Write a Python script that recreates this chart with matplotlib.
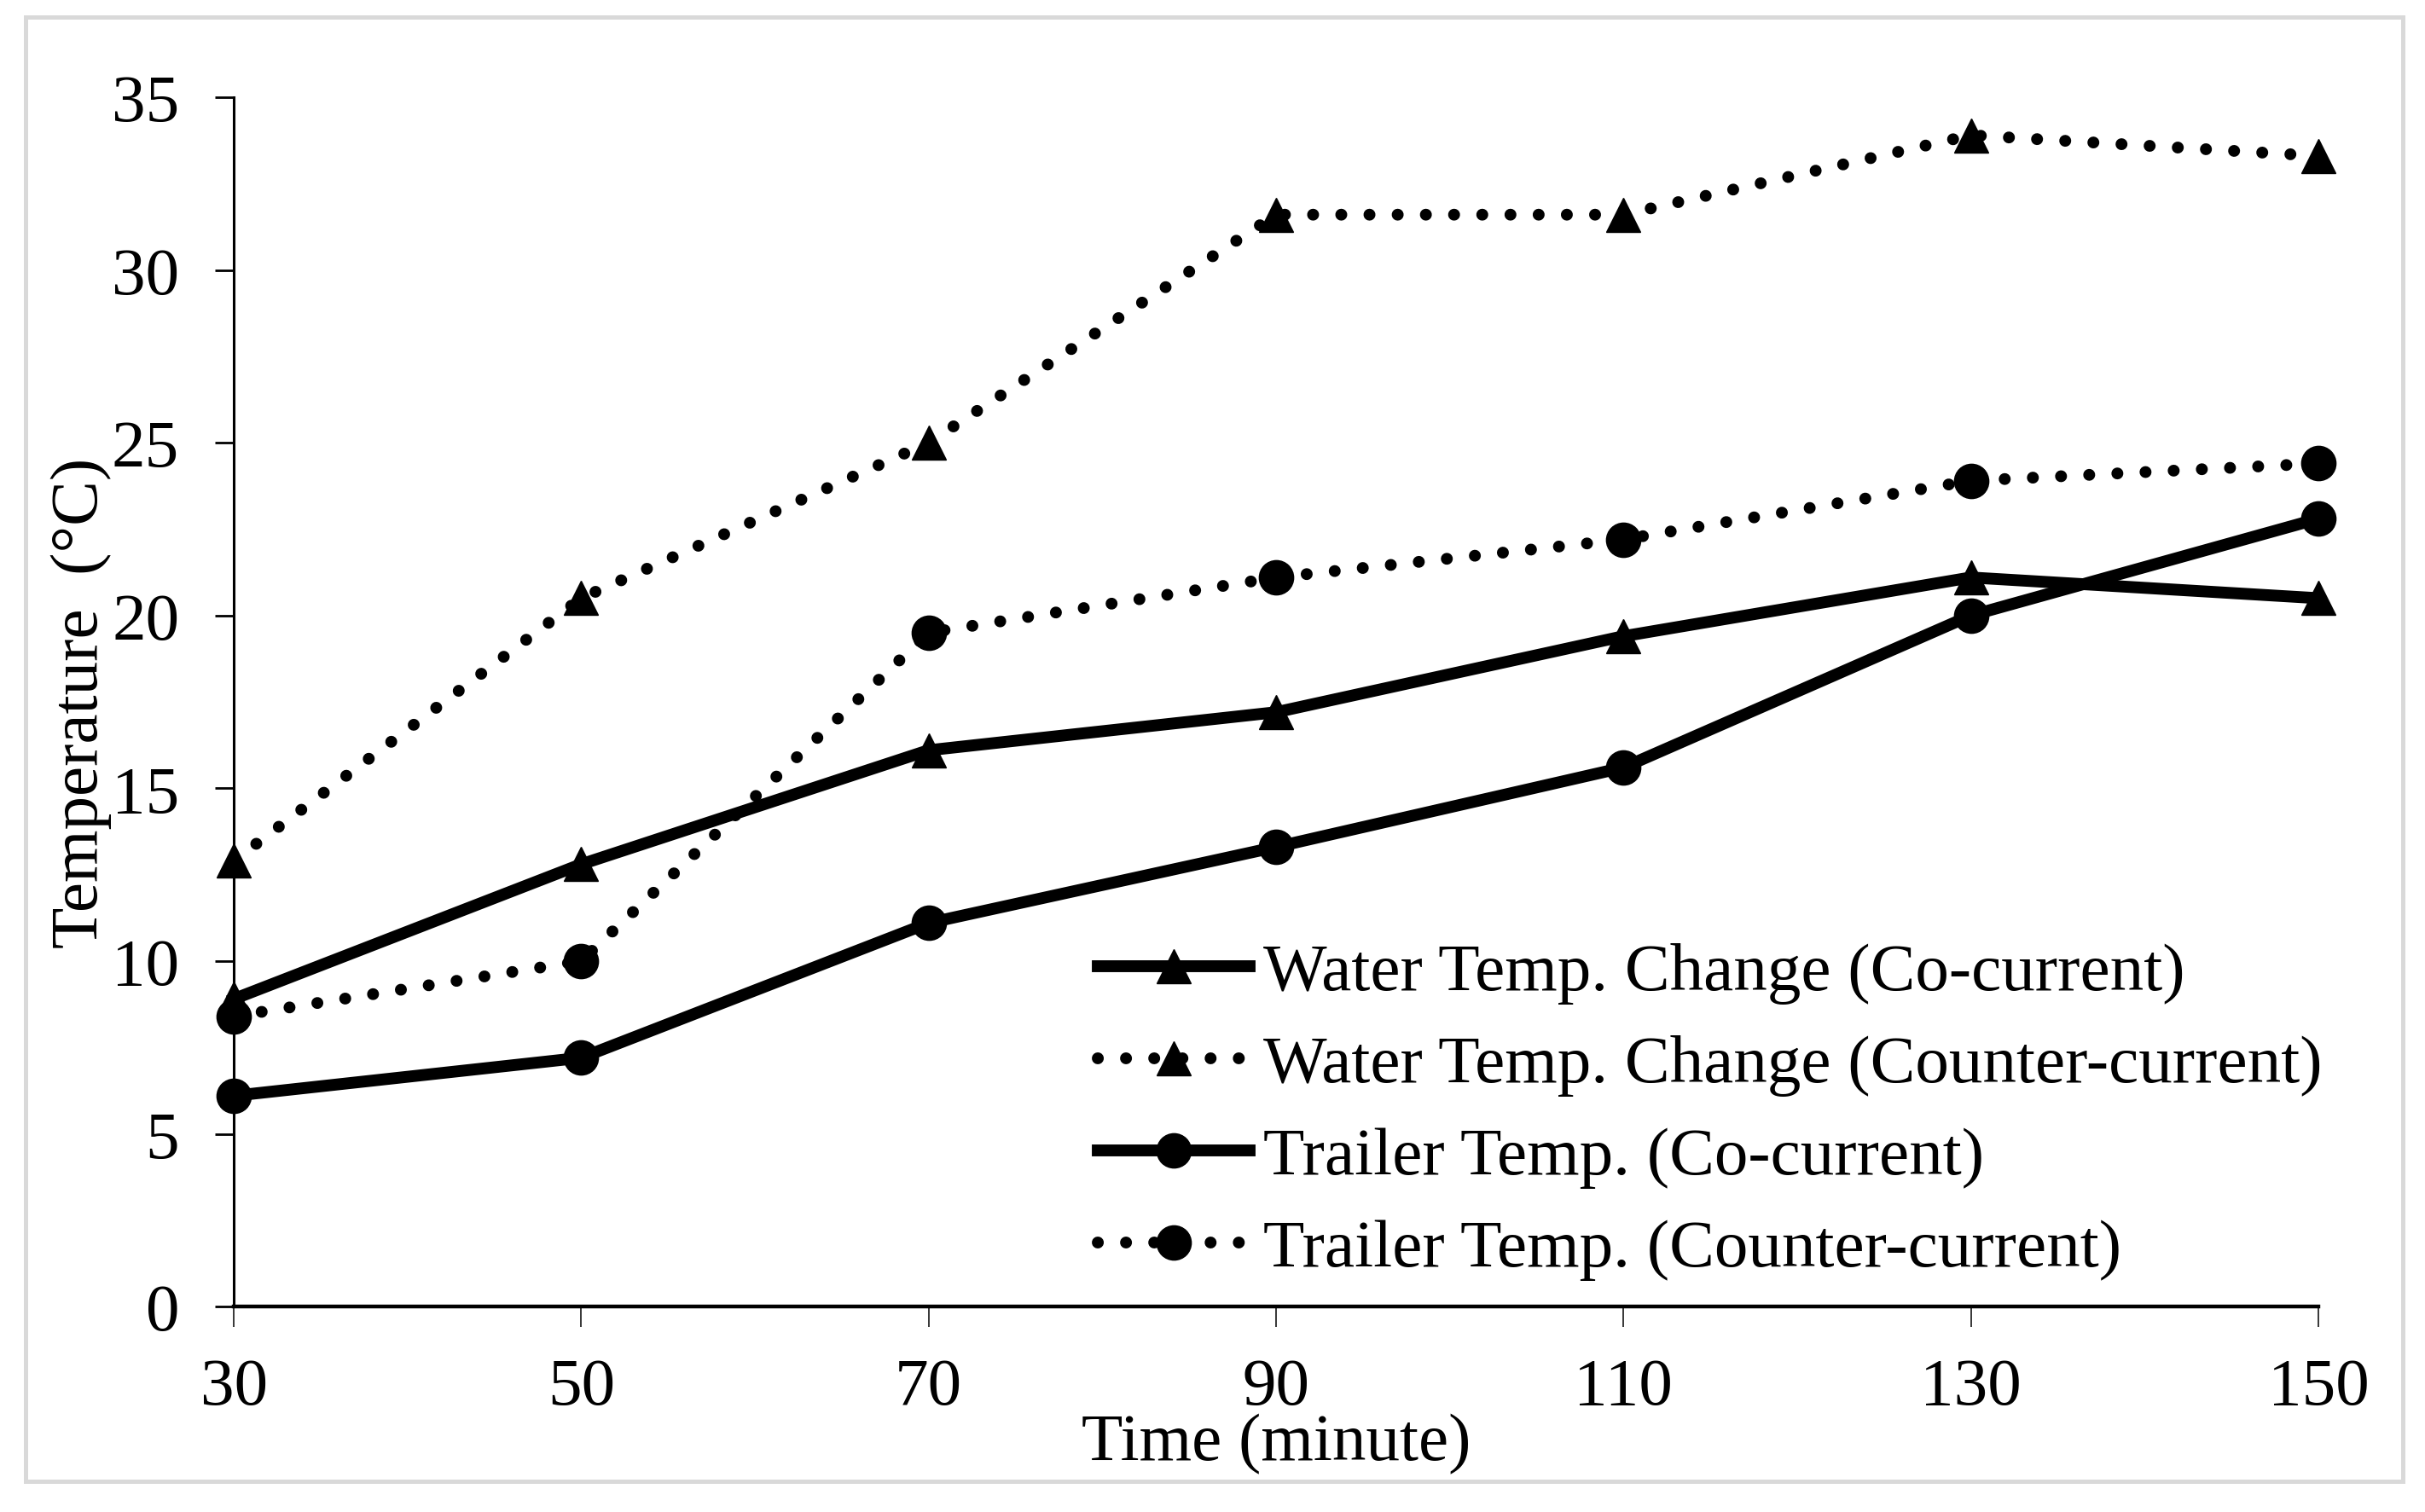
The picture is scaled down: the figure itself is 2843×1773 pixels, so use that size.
import matplotlib
matplotlib.use("Agg")
import matplotlib.pyplot as plt
from matplotlib.patches import Rectangle

# time points (minute)
time_min = [30, 50, 70, 90, 110, 130, 150]

# temperatures (degC)
water_co = [8.9, 12.8, 16.1, 17.2, 19.4, 21.1, 20.5]
water_counter = [12.9, 20.5, 25.0, 31.6, 31.6, 33.9, 33.3]
trailer_co = [6.1, 7.2, 11.1, 13.3, 15.6, 20.0, 22.8]
trailer_counter = [8.4, 10.0, 19.5, 21.1, 22.2, 23.9, 24.4]

labels = ["Water Temp. Change (Co-current)",
          "Water Temp. Change (Counter-current)",
          "Trailer Temp. (Co-current)",
          "Trailer Temp. (Counter-current)"]

y_ticks = [0, 5, 10, 15, 20, 25, 30, 35]

plt.rcParams['font.family'] = ['Liberation Serif', 'DejaVu Serif']
fs = 57

fig = plt.figure(figsize=(28.43, 17.74), dpi=100)
ax = fig.add_axes([0.0964, 0.1358, 0.8596, 0.7994])

dotted = (0, (0.01, 2.37))
solid_kw = dict(color='black', lw=10, markersize=29, clip_on=False)
dot_kw = dict(color='black', lw=10, markersize=29, clip_on=False,
              linestyle=dotted, dash_capstyle='round')

ax.plot(time_min, water_co, marker='^', label=labels[0], **solid_kw)
ax.plot(time_min, water_counter, marker='^', label=labels[1], **dot_kw)
ax.plot(time_min, trailer_co, marker='o', label=labels[2], **solid_kw)
ax.plot(time_min, trailer_counter, marker='o', label=labels[3], **dot_kw)

ax.set_xlim(30, 150)
ax.set_ylim(0, 35)
ax.set_xticks(time_min)
ax.set_yticks(y_ticks)

for s in ['top', 'right']:
    ax.spines[s].set_visible(False)
ax.spines['left'].set_linewidth(2.2)
ax.spines['bottom'].set_linewidth(3.2)

ax.tick_params(axis='x', direction='out', length=17, width=1.1, pad=26, labelsize=fs)
ax.tick_params(axis='y', direction='out', length=16, width=2, pad=30, labelsize=fs)

ax.set_xlabel("Time (minute)", fontsize=fs, labelpad=-5)
ax.set_ylabel("Temperature  (\u00b0C)", fontsize=fs, labelpad=0)

leg = ax.legend(loc='upper left', bbox_to_anchor=(0.4527, 0.3766),
                bbox_transform=fig.transFigure, frameon=False, fontsize=fs,
                handlelength=2.25, handletextpad=0.2, labelspacing=0.45,
                borderpad=0, borderaxespad=0, numpoints=1)

# light grey frame around the whole picture
fig.patches.append(Rectangle((0.0106, 0.0203), 0.9803, 0.9679,
                             transform=fig.transFigure, fill=False,
                             edgecolor='#d9d9d9', lw=3.6))

fig.savefig("out.png", dpi=100, facecolor='white')
